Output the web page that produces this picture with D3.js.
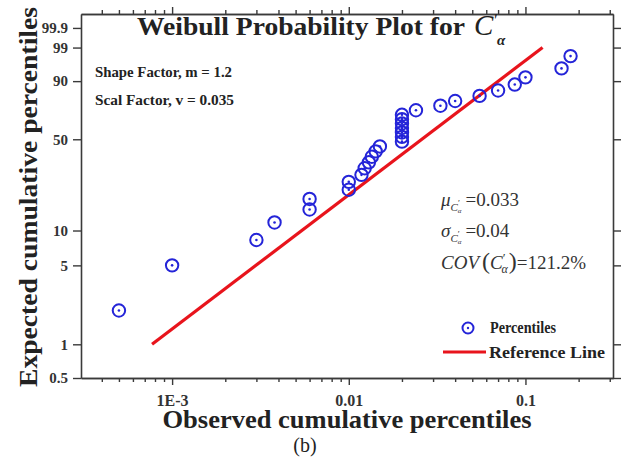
<!DOCTYPE html>
<html>
<head>
<meta charset="utf-8">
<script src="https://cdn.jsdelivr.net/npm/d3@7/dist/d3.min.js"></script>
<style>
  html, body { margin: 0; padding: 0; background: #fff; }
  svg { display: block; }
  text { font-family: "Liberation Serif", "Times New Roman", serif; }
</style>
</head>
<body>
<svg id="chart" width="621" height="464"></svg>
<script>
// ---------- data ----------
const observed = [0.0005, 0.001, 0.003, 0.0038, 0.006, 0.006, 0.010, 0.010,
  0.0118, 0.0123, 0.0130, 0.0135, 0.0142, 0.0150,
  0.020, 0.020, 0.020, 0.020, 0.020, 0.020, 0.020,
  0.024, 0.033, 0.040, 0.055, 0.070, 0.087, 0.100, 0.160, 0.180];
const expectedPct = [2.0, 5.0, 8.3, 11.7, 15.0, 18.3, 21.7, 25.0,
  28.3, 31.7, 35.0, 38.3, 41.7, 45.0,
  48.3, 51.7, 55.0, 58.3, 61.7, 65.0, 68.3,
  71.7, 75.0, 78.3, 81.7, 85.0, 88.3, 91.7, 95.0, 97.9];
const refX = [0.00077, 0.125];
const refY = [1, 99];
const yTicks = [0.5, 1, 5, 10, 50, 90, 99, 99.9];
const yTickLabels = ["0.5", "1", "5", "10", "50", "90", "99", "99.9"];
const xTicksMajor = [0.001, 0.01, 0.1];
const xTickLabels = ["1E-3", "0.01", "0.1"];
const xDomain = [0.000305, 0.313];
const yDomain = [0.5, 99.99];

// ---------- layout ----------
const svg = d3.select("#chart");
const L = 81, R = 613, T = 14, B = 378;

const wb = p => Math.log(-Math.log(1 - p / 100));   // Weibull probability transform
const x = d3.scaleLog().domain(xDomain).range([L, R]);
const yLin = d3.scaleLinear().domain(yDomain.map(wb)).range([B, T]);
const y = p => yLin(wb(p));

svg.append("rect").attr("width", 621).attr("height", 464).attr("fill", "#fff");

// minor x ticks
const minor = [];
for (let e = -4; e <= -1; e++) for (let k = 2; k <= 9; k++) {
  const v = k * Math.pow(10, e);
  if (v > xDomain[0] && v < xDomain[1]) minor.push(v);
}

const axisColor = "#3a3a3a";
function styleAxis(g) {
  g.selectAll("path").attr("stroke", axisColor).attr("stroke-width", 1.6);
  g.selectAll("line").attr("stroke", axisColor).attr("stroke-width", 1.4);
}

// bottom axes
svg.append("g").attr("transform", `translate(0,${B})`)
  .call(d3.axisBottom(x).tickValues(minor).tickSize(4).tickFormat("").tickSizeOuter(0))
  .call(styleAxis);
const gxb = svg.append("g").attr("transform", `translate(0,${B})`)
  .call(d3.axisBottom(x).tickValues(xTicksMajor).tickSize(7).tickSizeOuter(0)
    .tickFormat((d, i) => xTickLabels[i]))
  .call(styleAxis);
gxb.selectAll("text").attr("fill", "#333").attr("font-size", 16).attr("font-weight", "bold")
  .attr("font-family", "Liberation Serif").attr("dy", "1.1em");

// top axes
svg.append("g").attr("transform", `translate(0,${T})`)
  .call(d3.axisTop(x).tickValues(minor).tickSize(4).tickFormat("").tickSizeOuter(0))
  .call(styleAxis);
svg.append("g").attr("transform", `translate(0,${T})`)
  .call(d3.axisTop(x).tickValues(xTicksMajor).tickSize(7).tickFormat("").tickSizeOuter(0))
  .call(styleAxis);

// left axis
const gyl = svg.append("g").attr("transform", `translate(${L},0)`)
  .call(d3.axisLeft(yLin).tickValues(yTicks.map(wb)).tickSize(8).tickSizeOuter(0)
    .tickFormat((d, i) => yTickLabels[i]))
  .call(styleAxis);
gyl.selectAll("text").attr("fill", "#333").attr("font-size", 15).attr("font-weight", "bold")
  .attr("font-family", "Liberation Serif").attr("x", -13);

// right axis
svg.append("g").attr("transform", `translate(${R},0)`)
  .call(d3.axisRight(yLin).tickValues(yTicks.map(wb)).tickSize(8).tickSizeOuter(0).tickFormat(""))
  .call(styleAxis);

// reference line
const refData = refX.map((v, i) => [v, refY[i]]);
svg.append("path")
  .datum(refData)
  .attr("d", d3.line().x(d => x(d[0])).y(d => y(d[1])))
  .attr("stroke", "#e8141c").attr("stroke-width", 3.2).attr("fill", "none");

// points
const blue = "#2424d8";
const pts = svg.append("g").selectAll("g")
  .data(observed.map((v, i) => [v, expectedPct[i]]))
  .join("g")
  .attr("transform", d => `translate(${x(d[0])},${y(d[1])})`);
pts.append("circle").attr("r", 6.2).attr("fill", "none").attr("stroke", blue).attr("stroke-width", 2);
pts.append("circle").attr("r", 1.3).attr("fill", blue);

// title
svg.append("text").attr("x", 137).attr("y", 35)
  .attr("font-size", 26).attr("font-weight", "bold").attr("fill", "#222")
  .attr("textLength", 328).attr("lengthAdjust", "spacingAndGlyphs")
  .text("Weibull Probability Plot for");
svg.append("text").attr("x", 474).attr("y", 35).attr("font-size", 29)
  .attr("font-style", "italic").attr("fill", "#222").text("C");
svg.append("text").attr("x", 494).attr("y", 27).attr("font-size", 18)
  .attr("fill", "#222").text("′");
svg.append("text").attr("x", 497).attr("y", 45).attr("font-size", 15)
  .attr("font-style", "italic").attr("font-weight", "bold").attr("fill", "#222").text("α");

// factor annotations
svg.append("text").attr("x", 95).attr("y", 77).attr("font-size", 14).attr("font-weight", "bold")
  .attr("fill", "#222").attr("textLength", 137).attr("lengthAdjust", "spacingAndGlyphs")
  .text("Shape Factor, m = 1.2");
svg.append("text").attr("x", 95).attr("y", 105).attr("font-size", 14).attr("font-weight", "bold")
  .attr("fill", "#222").attr("textLength", 139).attr("lengthAdjust", "spacingAndGlyphs")
  .text("Scal Factor, v = 0.035");

// statistics
function statLine(yy, sym, rest) {
  const t = svg.append("text").attr("x", 441).attr("y", yy).attr("font-size", 19).attr("fill", "#333");
  t.append("tspan").attr("font-style", "italic").text(sym);
  t.append("tspan").attr("font-style", "italic").attr("font-size", 11).attr("dy", 5).text("C");
  t.append("tspan").attr("font-size", 9).attr("dy", -5).text("′");
  t.append("tspan").attr("font-style", "italic").attr("font-size", 7).attr("dx", -2).attr("dy", 7).text("α");
  t.append("tspan").attr("dy", -7).attr("dx", 4).text(rest);
}
statLine(206, "μ", "=0.033");
statLine(237, "σ", "=0.04");
const cov = svg.append("text").attr("x", 441).attr("y", 269).attr("font-size", 19).attr("fill", "#333");
cov.append("tspan").attr("font-style", "italic").text("COV");
cov.append("tspan").attr("dx", 3).attr("font-size", 24).text("(");
cov.append("tspan").attr("font-style", "italic").text("C");
cov.append("tspan").attr("font-size", 13).attr("dy", -7).text("′");
cov.append("tspan").attr("font-style", "italic").attr("font-size", 12).attr("dx", -4).attr("dy", 11).text("α");
cov.append("tspan").attr("font-size", 24).attr("dx", 1).attr("dy", -4).text(")");
cov.append("tspan").text("=121.2%");

// legend
const lg = svg.append("g");
lg.append("circle").attr("cx", 468).attr("cy", 328).attr("r", 5.5).attr("fill", "none")
  .attr("stroke", blue).attr("stroke-width", 2);
lg.append("circle").attr("cx", 468).attr("cy", 328).attr("r", 1.2).attr("fill", blue);
lg.append("text").attr("x", 490).attr("y", 333).attr("font-size", 16).attr("font-weight", "bold")
  .attr("fill", "#222").attr("textLength", 66).attr("lengthAdjust", "spacingAndGlyphs")
  .text("Percentiles");
lg.append("line").attr("x1", 443).attr("x2", 486).attr("y1", 352).attr("y2", 352)
  .attr("stroke", "#e8141c").attr("stroke-width", 3);
lg.append("text").attr("x", 489).attr("y", 358).attr("font-size", 17).attr("font-weight", "bold")
  .attr("fill", "#222").attr("textLength", 116).attr("lengthAdjust", "spacingAndGlyphs")
  .text("Reference Line");

// axis titles
svg.append("text").attr("x", 347).attr("y", 428).attr("text-anchor", "middle")
  .attr("font-size", 26).attr("font-weight", "bold").attr("fill", "#222")
  .attr("textLength", 369).attr("lengthAdjust", "spacingAndGlyphs")
  .text("Observed cumulative percentiles");
svg.append("text").attr("transform", "translate(37,197) rotate(-90)").attr("text-anchor", "middle")
  .attr("font-size", 26).attr("font-weight", "bold").attr("fill", "#222")
  .attr("textLength", 380).attr("lengthAdjust", "spacingAndGlyphs")
  .text("Expected cumulative percentiles");
svg.append("text").attr("x", 305).attr("y", 452).attr("text-anchor", "middle")
  .attr("font-family", "Liberation Sans, Arial, sans-serif").attr("font-size", 20).attr("fill", "#222")
  .text("(b)");
</script>
</body>
</html>
